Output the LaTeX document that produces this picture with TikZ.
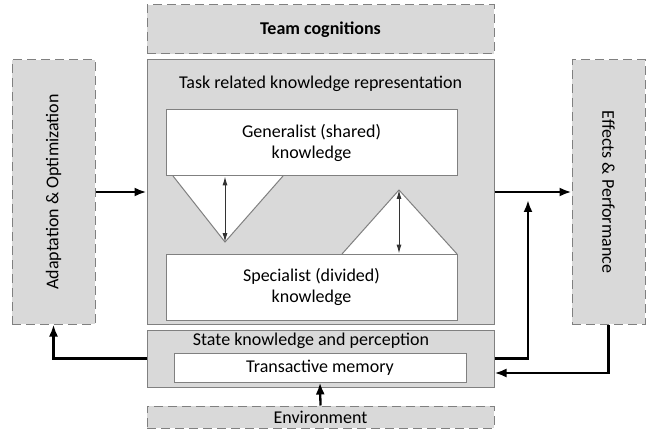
\documentclass[tikz,border=0pt]{standalone}
\usepackage{fontspec}
\setmainfont{Carlito}
\usetikzlibrary{arrows.meta,positioning}

\definecolor{grigio}{HTML}{D9D9D9}
\definecolor{bordo}{HTML}{808080}

\tikzset{
    box/.style={draw=bordo, fill=grigio, line width=1pt, inner sep=0pt},
    dbox/.style={box, dash pattern=on 9pt off 5pt},
    wbox/.style={draw=bordo, fill=white, line width=1pt, inner sep=0pt, align=center},
    freccia/.style={-{Latex[length=12pt,width=9pt]}, line width=2.3pt},
    doppia/.style={{Latex[length=9pt,width=5pt]}-{Latex[length=9pt,width=5pt]}, line width=1pt, draw=black!80},
    tri/.style={draw=bordo, fill=white, line width=1pt}
}

\begin{document}
\begin{tikzpicture}[x=1pt, y=-1pt, font=\fontsize{18}{21}\selectfont]

    \useasboundingbox (0,0) rectangle (647,430);

    % Riquadri esterni
    \node[dbox, minimum width=347pt, minimum height=49pt, font=\fontsize{18}{21}\selectfont\bfseries] (team) at (320.5,29.5) {Team cognitions};
    \node[box, minimum width=347pt, minimum height=264pt] (task) at (320.5,192) {};
    \node[dbox, minimum width=83pt, minimum height=264pt] (adapt) at (53.5,192) {};
    \node[dbox, minimum width=73pt, minimum height=264pt] (effects) at (608.5,192) {};
    \node[box, minimum width=347pt, minimum height=57pt] (state) at (320.5,358.5) {};
    \node[dbox, minimum width=347pt, minimum height=22pt] (env) at (320.5,417) {Environment};

    % Testi
    \node[below=13pt of task.north] (tasklbl) {Task related knowledge representation};
    \node[rotate=90] (adaptlbl) at (adapt.center) {Adaptation \& Optimization};
    \node[rotate=-90] (effectslbl) at (effects.center) {Effects \& Performance};
    \node (statelbl) at (311,341) {State knowledge and perception};

    % Triangoli
    \draw[tri] (173,176) -- (225,242) -- (283,176);
    \draw[tri] (342,254) -- (399,190) -- (457,254);

    % Conoscenze
    \node[wbox, minimum width=291pt, minimum height=66pt] (gen) at (311.5,143) {Generalist (shared)\\knowledge};
    \node[wbox, minimum width=291pt, minimum height=66pt] (spec) at (311.5,287) {Specialist (divided)\\knowledge};
    \node[wbox, minimum width=292pt, minimum height=29pt] (tmem) at (320,367.5) {Transactive memory};

    \coordinate (apexdown) at (225,242);
    \coordinate (apexup) at (399,190);
    \draw[doppia] (gen.south -| apexdown) -- (apexdown);
    \draw[doppia] (apexup) -- (spec.north -| apexup);

    % Frecce
    \coordinate (su) at (528,200);

    \draw[freccia] (adapt.east) -- (task.west);
    \draw[freccia] (task.east) -- (effects.west);
    \draw[freccia] (state.west) -| (adapt.south);
    \draw[freccia] (state.east) -| (su);
    \draw[freccia] (effects.south) |- ([yshift=-14.5pt]state.east);
    \draw[freccia] (env.north) -- (tmem.south);

\end{tikzpicture}
\end{document}
